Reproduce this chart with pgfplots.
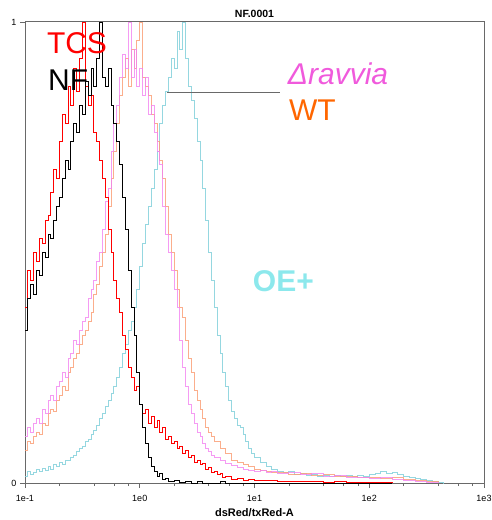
\documentclass[border=0pt]{standalone}
\usepackage{pgfplots}
\pgfplotsset{compat=1.18}
\usepackage{fontspec}
\setmainfont{Liberation Sans}
\definecolor{cTCS}{RGB}{255,0,0}
\definecolor{cRav}{RGB}{242,130,240}
\definecolor{cRavT}{RGB}{240,90,220}
\definecolor{cWT}{RGB}{250,160,120}
\definecolor{cWTT}{RGB}{255,102,0}
\definecolor{cOE}{RGB}{130,208,218}
\definecolor{cOET}{RGB}{140,232,236}
\definecolor{frm}{RGB}{105,105,105}
\begin{document}
\begin{tikzpicture}
\begin{axis}[
  at={(0,0)}, anchor=south west,
  scale only axis, width=459pt, height=461pt,
  xmin=-1, xmax=3, ymin=0, ymax=1,
  xtick={-1,0,1,2,3}, xticklabels={1e-1,1e0,1e1,1e2,1e3},
  minor xtick={-0.699,-0.398,-0.222,-0.097,0.301,0.602,0.778,0.903,1.301,1.602,1.778,1.903,2.301,2.602,2.778,2.903},
  ytick={0,1}, yticklabels={0,1},
  xtick pos=bottom, ytick pos=left,
  tick align=outside, major tick length=5pt, minor tick length=3pt,
  axis line style={frm, line width=1pt},
  every tick/.style={frm, line width=0.8pt},
  tick label style={font=\fontsize{9}{11}\selectfont},
  xticklabel style={yshift=-4pt},
  title={NF.0001},
  title style={font=\bfseries\fontsize{10.5}{12}\selectfont, at={(0.5,1)}, anchor=center, yshift=2pt},
  xlabel={dsRed/txRed-A},
  xlabel style={font=\bfseries\fontsize{11}{13}\selectfont, at={(axis description cs:0.5,0)}, anchor=center, yshift=-30pt},
  clip mode=individual,
]
% OE+
\addplot[const plot, color=cOE, opacity=0.85, line width=0.9pt] coordinates {
(-1.05,0.015)(-1.00,0.015)(-0.975,0.025)(-0.95,0.018)(-0.925,0.022)(-0.90,0.03)(-0.875,0.025)(-0.85,0.032)(-0.825,0.028)(-0.80,0.035)(-0.775,0.03)(-0.75,0.04)(-0.725,0.036)(-0.70,0.045)(-0.675,0.04)(-0.65,0.05)(-0.625,0.048)(-0.60,0.055)(-0.575,0.06)(-0.55,0.068)(-0.525,0.075)(-0.50,0.08)(-0.475,0.09)(-0.45,0.095)(-0.425,0.105)(-0.40,0.115)(-0.375,0.125)(-0.35,0.14)(-0.325,0.15)(-0.30,0.165)(-0.275,0.18)(-0.25,0.195)(-0.225,0.21)(-0.20,0.23)(-0.175,0.25)(-0.15,0.28)(-0.125,0.30)(-0.10,0.33)(-0.075,0.35)(-0.05,0.38)(-0.025,0.42)(0.00,0.47)(0.025,0.52)(0.05,0.56)(0.075,0.60)(0.10,0.64)(0.125,0.68)(0.15,0.72)(0.175,0.78)(0.20,0.82)(0.225,0.85)(0.25,0.88)(0.275,0.92)(0.30,0.90)(0.325,0.98)(0.35,0.94)(0.375,1.00)(0.40,0.92)(0.425,0.86)(0.45,0.83)(0.475,0.79)(0.50,0.74)(0.525,0.70)(0.55,0.64)(0.575,0.57)(0.60,0.50)(0.625,0.44)(0.65,0.38)(0.675,0.32)(0.70,0.28)(0.725,0.24)(0.75,0.21)(0.775,0.18)(0.80,0.155)(0.825,0.14)(0.85,0.125)(0.875,0.12)(0.90,0.105)(0.925,0.09)(0.95,0.075)(0.975,0.065)(1.00,0.055)(1.05,0.045)(1.10,0.036)(1.15,0.03)(1.20,0.026)(1.25,0.022)(1.30,0.024)(1.35,0.018)(1.40,0.02)(1.45,0.017)(1.50,0.019)(1.55,0.015)(1.60,0.017)(1.65,0.015)(1.70,0.016)(1.75,0.014)(1.80,0.016)(1.85,0.014)(1.90,0.017)(1.95,0.015)(2.00,0.018)(2.05,0.02)(2.10,0.024)(2.15,0.02)(2.20,0.022)(2.25,0.018)(2.30,0.015)(2.35,0.012)(2.40,0.01)(2.45,0.007)(2.50,0.005)(2.55,0.003)(2.60,0.001)(2.65,0)
};
% WT
\addplot[const plot, color=cWT, opacity=0.85, line width=0.9pt] coordinates {
(-1.05,0.07)(-1.00,0.07)(-0.975,0.09)(-0.95,0.085)(-0.925,0.10)(-0.90,0.11)(-0.875,0.105)(-0.85,0.13)(-0.825,0.125)(-0.80,0.15)(-0.775,0.16)(-0.75,0.155)(-0.725,0.18)(-0.70,0.19)(-0.675,0.21)(-0.65,0.20)(-0.625,0.24)(-0.60,0.25)(-0.575,0.27)(-0.55,0.28)(-0.525,0.30)(-0.50,0.32)(-0.475,0.33)(-0.45,0.35)(-0.425,0.37)(-0.40,0.41)(-0.375,0.43)(-0.35,0.47)(-0.325,0.50)(-0.30,0.54)(-0.275,0.60)(-0.25,0.66)(-0.225,0.72)(-0.20,0.78)(-0.175,0.84)(-0.15,0.88)(-0.125,0.92)(-0.10,0.86)(-0.075,0.94)(-0.05,0.90)(-0.025,0.96)(0.00,1.00)(0.025,0.88)(0.05,0.86)(0.075,0.84)(0.10,0.80)(0.125,0.78)(0.15,0.74)(0.175,0.70)(0.20,0.66)(0.225,0.60)(0.25,0.54)(0.275,0.50)(0.30,0.46)(0.325,0.42)(0.35,0.38)(0.375,0.36)(0.40,0.31)(0.425,0.27)(0.45,0.24)(0.475,0.20)(0.50,0.18)(0.525,0.16)(0.55,0.14)(0.575,0.12)(0.60,0.11)(0.625,0.10)(0.65,0.09)(0.70,0.075)(0.75,0.065)(0.80,0.05)(0.85,0.045)(0.90,0.04)(0.95,0.035)(1.00,0.03)(1.05,0.028)(1.10,0.024)(1.15,0.022)(1.2,0.022)(1.3,0.018)(1.4,0.02)(1.5,0.016)(1.6,0.018)(1.7,0.014)(1.8,0.015)(1.9,0.012)(2.0,0.013)(2.1,0.01)(2.2,0.011)(2.3,0.008)(2.4,0.006)(2.5,0.004)(2.6,0)
};
% Delta ravvia
\addplot[const plot, color=cRav, opacity=0.8, line width=0.9pt] coordinates {
(-1.05,0.10)(-1.00,0.10)(-0.975,0.12)(-0.95,0.11)(-0.925,0.13)(-0.90,0.14)(-0.875,0.13)(-0.85,0.16)(-0.825,0.15)(-0.80,0.18)(-0.775,0.19)(-0.75,0.18)(-0.725,0.21)(-0.70,0.22)(-0.675,0.24)(-0.65,0.23)(-0.625,0.27)(-0.60,0.28)(-0.575,0.31)(-0.55,0.30)(-0.525,0.33)(-0.50,0.35)(-0.475,0.36)(-0.45,0.40)(-0.425,0.42)(-0.40,0.44)(-0.375,0.48)(-0.35,0.50)(-0.325,0.55)(-0.30,0.61)(-0.275,0.64)(-0.25,0.72)(-0.225,0.78)(-0.20,0.82)(-0.175,0.88)(-0.15,0.93)(-0.125,0.90)(-0.10,1.00)(-0.075,0.88)(-0.05,0.94)(-0.025,0.86)(0.00,0.90)(0.025,0.84)(0.05,0.88)(0.075,0.80)(0.10,0.82)(0.125,0.76)(0.15,0.72)(0.175,0.69)(0.20,0.60)(0.225,0.54)(0.25,0.50)(0.275,0.46)(0.30,0.42)(0.325,0.38)(0.35,0.31)(0.375,0.25)(0.40,0.21)(0.425,0.17)(0.45,0.15)(0.475,0.13)(0.50,0.11)(0.525,0.10)(0.55,0.085)(0.575,0.075)(0.60,0.068)(0.625,0.06)(0.65,0.055)(0.70,0.05)(0.75,0.043)(0.80,0.038)(0.85,0.034)(0.90,0.03)(0.95,0.028)(1.00,0.026)(1.05,0.028)(1.10,0.022)(1.15,0.024)(1.2,0.02)(1.3,0.022)(1.4,0.018)(1.5,0.02)(1.6,0.015)(1.7,0.016)(1.8,0.012)(1.9,0.013)(2.0,0.01)(2.1,0.011)(2.2,0.008)(2.3,0.006)(2.4,0.004)(2.5,0.002)(2.6,0)
};
% TCS
\addplot[const plot, color=cTCS, line width=0.9pt] coordinates {
(-1.05,0.38)(-1.00,0.38)(-0.975,0.46)(-0.95,0.44)(-0.925,0.50)(-0.90,0.48)(-0.875,0.53)(-0.85,0.52)(-0.825,0.57)(-0.80,0.58)(-0.775,0.63)(-0.75,0.68)(-0.725,0.66)(-0.70,0.74)(-0.675,0.80)(-0.65,0.78)(-0.625,0.86)(-0.60,0.82)(-0.575,0.90)(-0.55,0.85)(-0.525,0.92)(-0.50,1.00)(-0.475,0.86)(-0.45,0.82)(-0.425,0.84)(-0.40,0.76)(-0.375,0.74)(-0.35,0.70)(-0.325,0.66)(-0.30,0.62)(-0.275,0.55)(-0.25,0.50)(-0.225,0.44)(-0.20,0.40)(-0.175,0.37)(-0.15,0.32)(-0.125,0.29)(-0.10,0.25)(-0.075,0.23)(-0.05,0.20)(-0.025,0.21)(0.00,0.17)(0.025,0.15)(0.05,0.16)(0.075,0.13)(0.10,0.145)(0.125,0.12)(0.15,0.135)(0.175,0.11)(0.20,0.12)(0.225,0.095)(0.25,0.10)(0.275,0.085)(0.30,0.09)(0.325,0.075)(0.35,0.08)(0.375,0.065)(0.40,0.07)(0.425,0.055)(0.45,0.06)(0.475,0.045)(0.50,0.05)(0.525,0.04)(0.55,0.042)(0.575,0.03)(0.60,0.033)(0.625,0.022)(0.65,0.025)(0.675,0.018)(0.70,0.02)(0.725,0.012)(0.75,0.014)(0.80,0.008)(0.85,0.01)(0.90,0.006)(0.95,0.007)(1.00,0.005)(1.1,0.006)(1.2,0.003)(1.3,0.004)(1.4,0.003)(1.5,0.004)(1.6,0.002)(1.7,0.003)(1.8,0.002)(1.9,0.001)(2.0,0.002)(2.2,0)
};
% NF
\addplot[const plot, color=black, line width=0.9pt] coordinates {
(-1.05,0.33)(-1.00,0.33)(-0.975,0.40)(-0.95,0.43)(-0.925,0.41)(-0.90,0.46)(-0.875,0.45)(-0.85,0.50)(-0.825,0.49)(-0.80,0.54)(-0.775,0.53)(-0.75,0.57)(-0.725,0.60)(-0.70,0.62)(-0.675,0.66)(-0.65,0.70)(-0.625,0.68)(-0.60,0.74)(-0.575,0.78)(-0.55,0.76)(-0.525,0.82)(-0.50,0.80)(-0.475,0.87)(-0.45,0.84)(-0.425,0.90)(-0.40,0.86)(-0.375,0.92)(-0.35,1.00)(-0.325,0.88)(-0.30,0.86)(-0.275,0.90)(-0.25,0.82)(-0.225,0.78)(-0.20,0.74)(-0.175,0.69)(-0.15,0.62)(-0.125,0.55)(-0.10,0.46)(-0.075,0.38)(-0.05,0.32)(-0.025,0.24)(0.00,0.17)(0.025,0.12)(0.05,0.085)(0.075,0.055)(0.10,0.035)(0.125,0.025)(0.15,0.015)(0.175,0.02)(0.20,0.008)(0.225,0.01)(0.25,0.004)(0.30,0.006)(0.35,0.002)(0.40,0.004)(0.45,0)(0.5,0.003)(0.55,0)(0.7,0.003)(0.75,0)(2.2,0)
};
% pointer line
\addplot[color=frm, line width=0.9pt] coordinates {(0.237,0.848)(1.222,0.848)};
\node[anchor=west, inner sep=0, text=cTCS, font=\fontsize{30}{30}\selectfont] at (axis cs:-0.81,0.954) {TCS};
\node[anchor=west, inner sep=0, text=black, font=\fontsize{30}{30}\selectfont] at (axis cs:-0.80,0.874) {NF};
\node[anchor=west, inner sep=0, text=cRavT, font=\itshape\fontsize{30}{30}\selectfont] at (axis cs:1.29,0.887) {Δravvia};
\node[anchor=west, inner sep=0, text=cWTT, font=\fontsize{30}{30}\selectfont] at (axis cs:1.30,0.809) {WT};
\node[anchor=west, inner sep=0, text=cOET, font=\bfseries\fontsize{30}{30}\selectfont] at (axis cs:0.985,0.438) {OE+};
\end{axis}
\pgfresetboundingbox
\path[use as bounding box] (-25pt,-37pt) rectangle (466pt,483pt);
\end{tikzpicture}
\end{document}
